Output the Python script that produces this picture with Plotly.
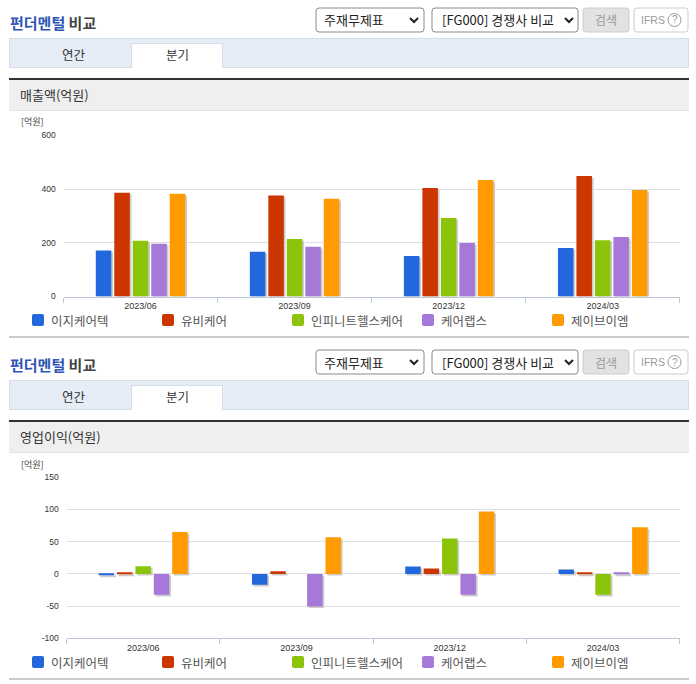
import plotly.graph_objects as go

W, H = 696, 684

quarters = ["2023/06", "2023/09", "2023/12", "2024/03"]
companies = ["이지케어텍", "유비케어", "인피니트헬스케어", "케어랩스", "제이브이엠"]
colors = ["#2268dc", "#cc3600", "#8cc40c", "#a678d8", "#ff9a00"]

# 매출액(억원)
sales_ezcare = [171, 167, 151, 181]
sales_ubcare = [387, 376, 404, 449]
sales_infinitt = [208, 214, 293, 210]
sales_carelabs = [197, 185, 199, 222]
sales_jvm = [383, 364, 434, 397]
sales_ticks = [0, 200, 400, 600]

# 영업이익(억원)
profit_ezcare = [-2, -17, 11.5, 7]
profit_ubcare = [1.5, 4, 8.5, 1]
profit_infinitt = [12, 0, 55, -32.5]
profit_carelabs = [-32.5, -50.5, -32.5, 2.5]
profit_jvm = [65, 57, 97, 72.5]
profit_ticks = [-100, -50, 0, 50, 100, 150]

sales = [sales_ezcare, sales_ubcare, sales_infinitt, sales_carelabs, sales_jvm]
profit = [profit_ezcare, profit_ubcare, profit_infinitt, profit_carelabs, profit_jvm]

KR = "Noto Sans CJK KR"
NUM = "Liberation Sans"
GRID = "#dcdfe3"
AXIS = "#bcc8d8"
SHADOW = "#cccccc"
SHADOW_PX = 1.7

shapes = []
annotations = []


def px(x):
    return x / W


def py(y):
    return 1 - y / H


def rect(x0, y0, x1, y1, fill, line=None):
    shapes.append(dict(
        type="rect", xref="paper", yref="paper",
        x0=px(x0), x1=px(x1), y0=py(y0), y1=py(y1),
        fillcolor=fill, line=dict(color=line, width=1) if line else dict(width=0),
    ))


def round_rect(x0, y0, x1, y1, fill, line=None, r=3):
    path = (
        f"M{px(x0 + r)},{py(y0)} L{px(x1 - r)},{py(y0)} Q{px(x1)},{py(y0)} {px(x1)},{py(y0 + r)} "
        f"L{px(x1)},{py(y1 - r)} Q{px(x1)},{py(y1)} {px(x1 - r)},{py(y1)} "
        f"L{px(x0 + r)},{py(y1)} Q{px(x0)},{py(y1)} {px(x0)},{py(y1 - r)} "
        f"L{px(x0)},{py(y0 + r)} Q{px(x0)},{py(y0)} {px(x0 + r)},{py(y0)} Z"
    )
    shapes.append(dict(
        type="path", xref="paper", yref="paper", path=path, fillcolor=fill,
        line=dict(color=line, width=1) if line else dict(width=0),
    ))


def chevron(x, y):
    path = f"M{px(x - 4)},{py(y - 2)} L{px(x)},{py(y + 2)} L{px(x + 4)},{py(y - 2)}"
    shapes.append(dict(
        type="path", xref="paper", yref="paper", path=path,
        line=dict(color="#222222", width=2),
    ))


def label(x, y, text, size=12, color="#333333", anchor="left", font=KR):
    annotations.append(dict(
        xref="paper", yref="paper", x=px(x), y=py(y), text=text, showarrow=False,
        xanchor=anchor, yanchor="middle", borderpad=0,
        font=dict(family=font, size=size, color=color),
    ))


def draw_header(top, section):
    # page furniture around one chart, top is the y of the title block
    label(9, top + 23, "<b><span style='color:#2f55b5'>펀더멘털</span> 비교</b>", size=15, color="#444444")

    round_rect(316, top + 8, 424, top + 32, "#ffffff", "#8a8a8a")
    label(323, top + 20, "주재무제표", size=13, color="#222222")
    chevron(414, top + 20)

    round_rect(432, top + 8, 578, top + 32, "#ffffff", "#8a8a8a")
    label(441, top + 20, "[FG000] 경쟁사 비교", size=13, color="#222222")
    chevron(569, top + 20)

    round_rect(583, top + 8, 629, top + 32, "#e2e2e2", "#cccccc")
    label(606, top + 20, "검색", size=12, color="#9a9a9a", anchor="center")

    round_rect(634, top + 8, 688, top + 32, "#ffffff", "#cccccc")
    label(640, top + 20, "IFRS", size=10.5, color="#999999", font=NUM)
    shapes.append(dict(
        type="circle", xref="paper", yref="paper",
        x0=px(668), x1=px(681), y0=py(top + 26.5), y1=py(top + 13.5),
        line=dict(color="#999999", width=1),
    ))
    label(674.5, top + 20, "?", size=10, color="#999999", anchor="center", font=NUM)

    rect(9.5, top + 38.5, 688.5, top + 67.5, "#e6edf7", "#d5dde8")
    rect(131.5, top + 43.5, 222.5, top + 68, "#ffffff", "#d5dde8")
    rect(132, top + 66, 222, top + 69, "#ffffff")
    label(74, top + 54, "연간", size=12.5, anchor="center")
    label(177, top + 55, "분기", size=12.5, anchor="center")

    rect(9, top + 78, 689, top + 80, "#333333")
    rect(9, top + 80, 689, top + 110, "#efefef")
    rect(9, top + 110, 689, top + 111, "#e2e2e2")
    label(18.5, top + 95, section, size=13, color="#333333")
    label(19.5, top + 122, "[억원]", size=9, color="#444444")


def draw_legend(y):
    for i, name in enumerate(companies):
        left = 32 + 130 * i
        round_rect(left, y - 6, left + 12, y + 6, colors[i], r=2)
        label(left + 17.5, y, name, size=12.5, color="#555555")


def add_chart(fig, series, base, left, plot_top, plot_bottom, tickvals):
    ymin, ymax = tickvals[0], tickvals[-1]
    names = [str(base), str(base + 1), str(base + 2)]
    x_key = ["xaxis" if n == "1" else f"xaxis{n}" for n in names]
    y_key = ["yaxis" if n == "1" else f"yaxis{n}" for n in names]
    x_ref = ["x" if n == "1" else f"x{n}" for n in names]
    y_ref = ["y" if n == "1" else f"y{n}" for n in names]

    x_domain = [px(left), px(679.7)]
    y_domain = [py(plot_bottom), py(plot_top)]
    x_per_px = 4 / (679.7 - left)
    y_per_px = (ymax - ymin) / (plot_bottom - plot_top)

    # empty trace only carries the category axis with labels and grid
    fig.add_trace(go.Bar(x=quarters, y=[None] * 4, xaxis=x_ref[0], yaxis=y_ref[0],
                         showlegend=False, hoverinfo="skip"))
    for i, name in enumerate(companies):
        fig.add_trace(go.Bar(x=quarters, y=series[i], name=name, xaxis=x_ref[1], yaxis=y_ref[1],
                             marker=dict(color=SHADOW, line=dict(width=0)),
                             showlegend=False, hoverinfo="skip"))
    for i, name in enumerate(companies):
        fig.add_trace(go.Bar(x=quarters, y=series[i], name=name, xaxis=x_ref[2], yaxis=y_ref[2],
                             marker=dict(color=colors[i], line=dict(width=0)),
                             showlegend=False))

    fig.update_layout({
        x_key[0]: dict(
            domain=x_domain, anchor=y_ref[0], type="category", categoryarray=quarters,
            range=[-0.5, 3.5], tickson="boundaries", ticks="outside", ticklen=5, tickcolor=AXIS,
            showline=True, linecolor=AXIS, linewidth=1, showgrid=False, zeroline=False,
            ticklabelstandoff=1,
            tickfont=dict(family=NUM, size=9, color="#333333"),
        ),
        y_key[0]: dict(
            domain=y_domain, anchor=x_ref[0], range=[ymin, ymax], tickvals=tickvals,
            ticktext=[str(v) for v in tickvals],
            showgrid=True, gridcolor=GRID, gridwidth=1, zeroline=False, showline=False,
            ticks="outside", ticklen=5, tickcolor="rgba(0,0,0,0)",
            tickfont=dict(family=NUM, size=8.5, color="#333333"),
        ),
        x_key[1]: dict(
            domain=x_domain, anchor=y_ref[1], overlaying=x_ref[0], visible=False, type="category",
            categoryarray=quarters,
            range=[-0.5 - SHADOW_PX * x_per_px, 3.5 - SHADOW_PX * x_per_px],
        ),
        y_key[1]: dict(
            domain=y_domain, anchor=x_ref[1], overlaying=y_ref[0], visible=False,
            range=[ymin + SHADOW_PX * y_per_px, ymax + SHADOW_PX * y_per_px],
        ),
        x_key[2]: dict(
            domain=x_domain, anchor=y_ref[2], overlaying=x_ref[0], visible=False, type="category",
            categoryarray=quarters, range=[-0.5, 3.5],
        ),
        y_key[2]: dict(
            domain=y_domain, anchor=x_ref[2], overlaying=y_ref[0], visible=False,
            range=[ymin, ymax],
        ),
    })


fig = go.Figure()
add_chart(fig, sales, 1, 63.5, 135.5, 296.5, sales_ticks)
add_chart(fig, profit, 4, 66.5, 477.3, 638.3, profit_ticks)

draw_header(0, "매출액(억원)")
draw_header(342, "영업이익(억원)")
draw_legend(320)
draw_legend(662)
rect(9, 336, 689, 338, "#cccccc")
rect(9, 678, 689, 680, "#cccccc")

fig.update_layout(
    width=W,
    height=H,
    margin=dict(l=0, r=0, t=0, b=0, autoexpand=False),
    paper_bgcolor="#ffffff",
    plot_bgcolor="#ffffff",
    barmode="group",
    bargap=0.4,
    bargroupgap=0.16,
    showlegend=False,
    shapes=shapes,
    annotations=annotations,
    font=dict(family=KR),
)

fig.write_html("out.html", config={"displayModeBar": False},
               post_script="document.body.style.margin='0';")
